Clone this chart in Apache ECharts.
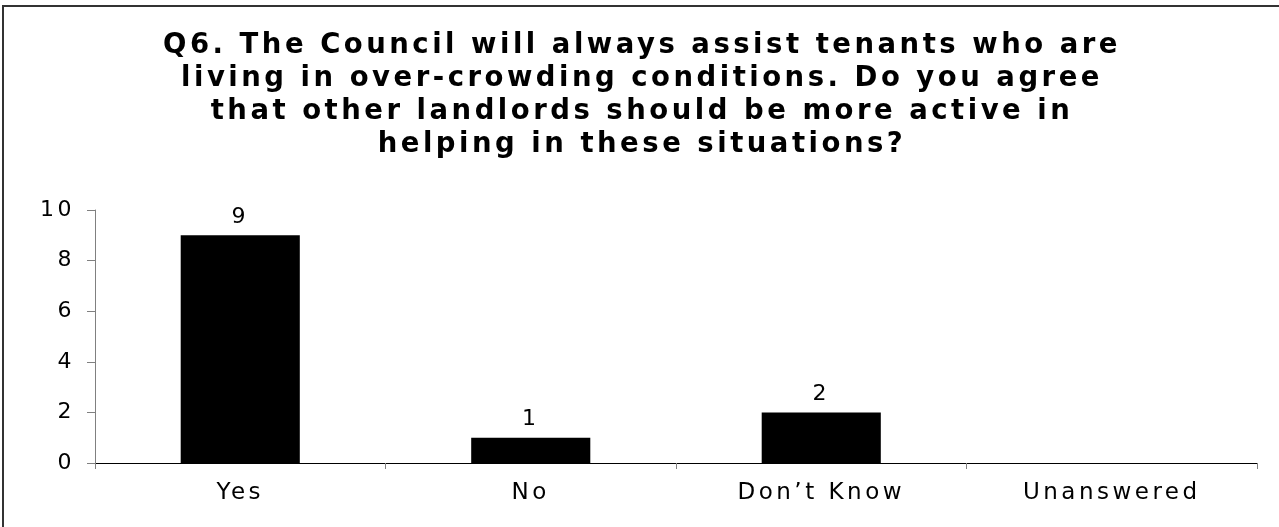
<!DOCTYPE html>
<html>
<head>
<meta charset="utf-8">
<script src="https://cdn.jsdelivr.net/npm/echarts@6/dist/echarts.min.js"></script>
<style>
html,body{margin:0;padding:0;background:#fff;}
#chart{width:1279px;height:527px;}
</style>
</head>
<body>
<div id="chart"></div>
<script>
const titleText = "Q6. The Council will always assist tenants who are\nliving in over-crowding conditions. Do you agree\nthat other landlords should be more active in\nhelping in these situations?";
const categories = ["Yes", "No", "Don\u2019t Know", "Unanswered"];
const values = [9, 1, 2, null];
const yTicks = [0, 2, 4, 6, 8, 10];

const chart = echarts.init(document.getElementById('chart'), null, {renderer: 'canvas'});
chart.setOption({
  animation: false,
  backgroundColor: '#ffffff',
  title: {
    text: titleText,
    left: 637,
    textAlign: 'center',
    top: 24,
    textStyle: {
      fontFamily: 'DejaVu Sans',
      fontWeight: 'bold',
      fontSize: 27.5,
      lineHeight: 33,
      color: '#000'
    }
  },
  graphic: [{
    type: 'rect',
    shape: {x: 3, y: 6, width: 1290, height: 540},
    style: {fill: 'none', stroke: '#333', lineWidth: 2},
    silent: true
  }],
  grid: {left: 95, right: 22, top: 210, bottom: 64, containLabel: false},
  xAxis: {
    type: 'category',
    data: categories,
    boundaryGap: true,
    axisLine: {lineStyle: {color: '#000', width: 1}},
    axisTick: {show: true, alignWithLabel: false, length: 6, lineStyle: {color: '#808080'}},
    axisLabel: {fontFamily: 'DejaVu Sans', fontSize: 23, color: '#000', margin: 19},
    splitLine: {show: false}
  },
  yAxis: {
    type: 'value',
    min: yTicks[0],
    max: yTicks[yTicks.length - 1],
    interval: 2,
    axisLine: {show: true, lineStyle: {color: '#808080', width: 1}},
    axisTick: {show: true, length: 8, lineStyle: {color: '#808080'}},
    axisLabel: {fontFamily: 'DejaVu Sans', fontSize: 22, color: '#000', margin: 20},
    splitLine: {show: false}
  },
  series: [{
    type: 'bar',
    data: values,
    barWidth: '41%',
    itemStyle: {color: '#000'},
    label: {
      show: true,
      position: 'top',
      distance: 7,
      fontFamily: 'DejaVu Sans',
      fontSize: 22,
      color: '#000'
    }
  }]
});
// the reference text is set with wide tracking; apply it on the drawing context and repaint
function applyTracking() {
  document.querySelectorAll('#chart canvas').forEach(function (cv) {
    const ctx = cv.getContext('2d');
    if ('letterSpacing' in ctx) ctx.letterSpacing = '3.5px';
  });
  const zr = chart.getZr();
  if (zr && zr.painter && zr.painter.refresh) zr.painter.refresh(true);
}
applyTracking();
</script>
</body>
</html>
